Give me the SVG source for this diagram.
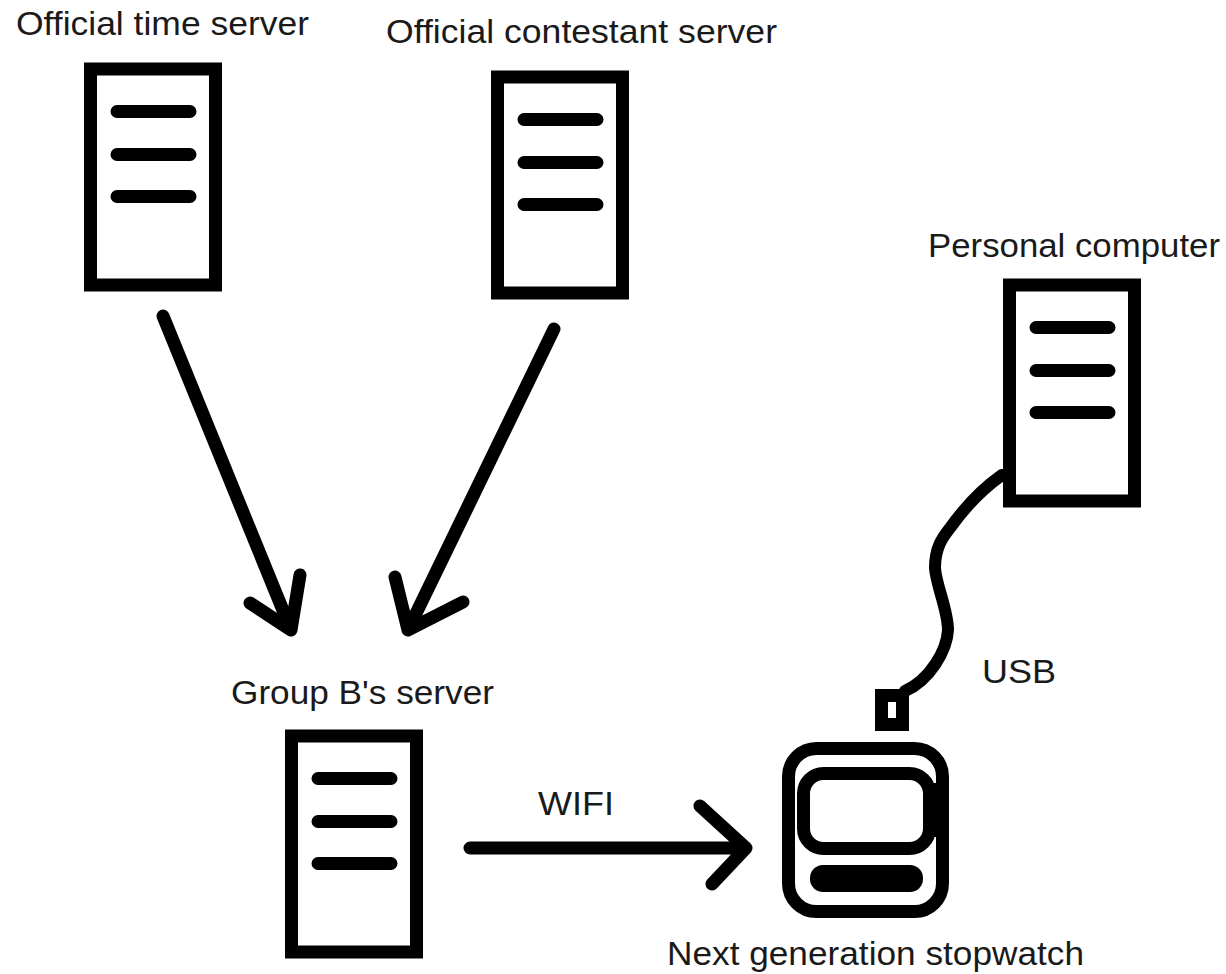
<svg xmlns="http://www.w3.org/2000/svg" width="1226" height="974" viewBox="0 0 1226 974">
<style>
text{font-family:"Liberation Sans",Arial,sans-serif;font-size:33px;fill:#1a1a1a}
.b{fill:#fff;stroke:#000;stroke-width:13}
.l{fill:none;stroke:#000;stroke-width:13;stroke-linecap:round;stroke-linejoin:round}
.w{fill:none;stroke:#000;stroke-width:12;stroke-linecap:round;stroke-linejoin:round}
.s{fill:#fff;stroke:#000;stroke-width:13}
</style>
<defs>
<g id="srv"><rect class="b" x="6.5" y="7" width="125" height="216"/><path class="l" d="M33 49.500H106M33 92.500H106M33 134.500H106"/></g>
</defs>
<rect width="1226" height="974" fill="#fff"/>
<g id="time-server"><text x="16" y="35" textLength="293" lengthAdjust="spacingAndGlyphs">Official time server</text><use href="#srv" x="84" y="62"/></g>
<g id="contestant-server"><text x="386" y="43" textLength="391" lengthAdjust="spacingAndGlyphs">Official contestant server</text><use href="#srv" x="491" y="70"/></g>
<g id="personal-computer"><text x="928" y="257" textLength="292" lengthAdjust="spacingAndGlyphs">Personal computer</text><use href="#srv" x="1003" y="278"/></g>
<g id="group-b-server"><text x="231" y="704" textLength="263" lengthAdjust="spacingAndGlyphs">Group B's server</text><use href="#srv" x="285" y="729"/></g>
<g id="stopwatch"><text x="667" y="965" textLength="417" lengthAdjust="spacingAndGlyphs">Next generation stopwatch</text>
<rect class="s" x="788.5" y="748.5" width="154" height="163" rx="28"/>
<rect class="s" x="803.500" y="773.500" width="126" height="75" rx="20"/>
<rect x="925" y="783" width="18" height="54" fill="#000"/>
<rect x="810" y="865" width="113" height="27" rx="13" fill="#000"/>
<rect class="s" x="881.5" y="695.5" width="21" height="29"/></g>
<g id="connectors">
<path class="l" d="M163 316L291 630M250 603L291 630L300 575"/>
<path class="l" d="M554 329L408 630M395 577L408 630L463 602"/>
<path class="l" d="M470 848H746M700 806L746 848L712 884"/>
<path class="w" d="M1002 475C985 487 965 507 950 528C942 538 935 548 935 568C936 585 948 610 948 630C947 650 930 680 905 691"/>
<text x="538" y="815" textLength="76" lengthAdjust="spacingAndGlyphs">WIFI</text>
<text x="982" y="683" textLength="74" lengthAdjust="spacingAndGlyphs">USB</text>
</g>
</svg>
